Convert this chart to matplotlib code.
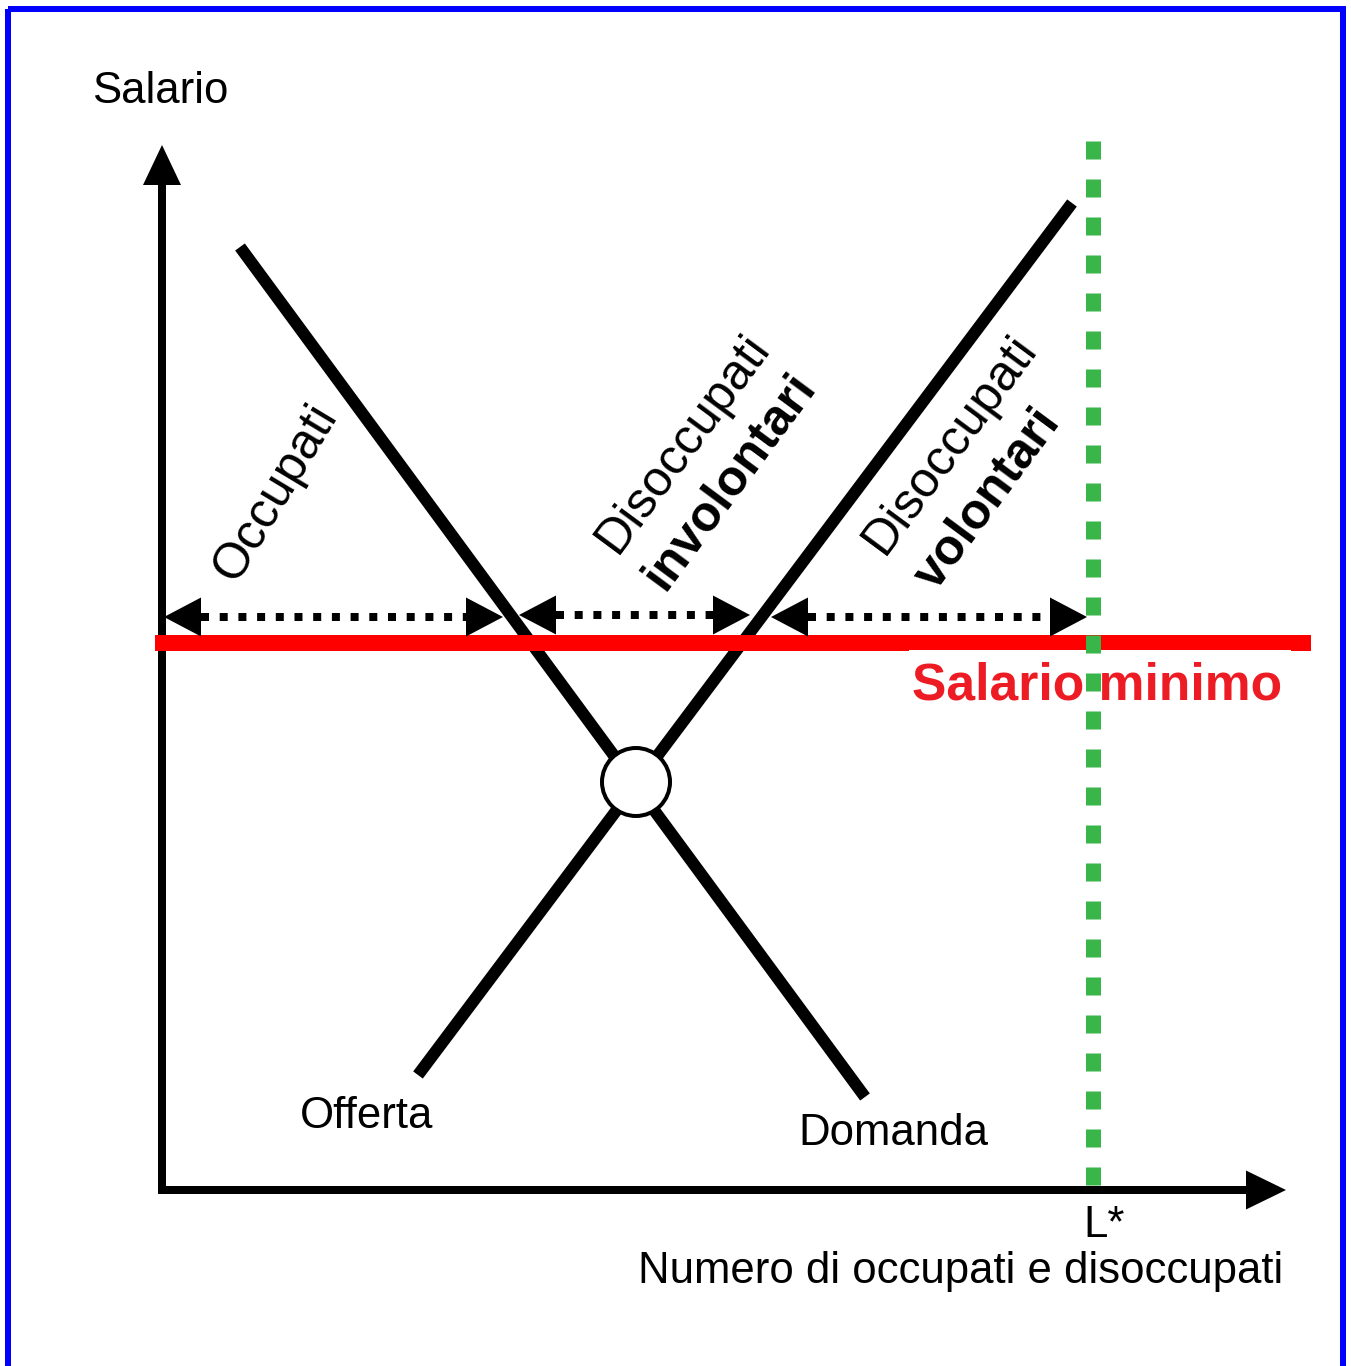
"""Minimum wage diagram: labour supply and demand with a wage floor."""

import matplotlib
matplotlib.use("Agg")
import matplotlib.pyplot as plt
from matplotlib.patches import Circle, Rectangle, Polygon

plt.rcParams['font.family'] = ['Liberation Sans', 'DejaVu Sans']
plt.rcParams['lines.scale_dashes'] = False

W, H = 1351, 1366
PX = 72 / 100  # points per pixel at dpi 100

# diagram geometry, canvas units (y grows downward)
origin = (162, 1190)
y_axis_top = 145
x_axis_right = 1286
demand_x = [240, 865]
demand_y = [247, 1097]
supply_x = [418, 1072]
supply_y = [1075, 203]
equilibrium = (636, 782)
min_wage_y = 643
min_wage_x = [155, 1311]
l_star_x = 1093
l_star_y = [141, 1186]

# horizontal gaps: occupati, disoccupati involontari, disoccupati volontari
gap_y = [617, 615, 617]
gap_left = [164, 519, 771]
gap_right = [503, 750, 1087]


def arrow_head(ax, tip, direction, length, half, zorder=5):
    """Filled triangular head; direction is a unit vector (dx, dy)."""
    tx, ty = tip
    dx, dy = direction
    bx, by = tx - dx * length, ty - dy * length
    px, py = -dy * half, dx * half
    ax.add_patch(Polygon([(tx, ty), (bx + px, by + py), (bx - px, by - py)],
                         closed=True, facecolor="black", edgecolor="none",
                         zorder=zorder))


fig = plt.figure(figsize=(W / 100, H / 100), dpi=100)
ax = fig.add_axes([0, 0, 1, 1])
ax.set_xlim(0, W)
ax.set_ylim(H, 0)
ax.axis("off")

# blue frame
ax.add_patch(Rectangle((8, 9), 1335, 1400, fill=False, edgecolor="#0000FF",
                       linewidth=6 * PX, zorder=10))

# axes with arrows
ox, oy = origin
ax.plot([ox, ox], [oy + 4, y_axis_top + 30], color="black",
        linewidth=8 * PX, solid_capstyle="butt", zorder=3)
arrow_head(ax, (ox, y_axis_top), (0, -1), 40, 19)
ax.plot([ox - 4, x_axis_right - 30], [oy, oy], color="black",
        linewidth=8 * PX, solid_capstyle="butt", zorder=3)
arrow_head(ax, (x_axis_right, oy), (1, 0), 40, 19.5)

# demand and supply
ax.plot(demand_x, demand_y, color="black", linewidth=12 * PX,
        solid_capstyle="butt", zorder=3)
ax.plot(supply_x, supply_y, color="black", linewidth=12 * PX,
        solid_capstyle="butt", zorder=3)
ax.add_patch(Circle(equilibrium, 34, facecolor="white", edgecolor="black",
                    linewidth=4 * PX, zorder=6))

# minimum wage
ax.plot(min_wage_x, [min_wage_y, min_wage_y], color="#FF0000",
        linewidth=16 * PX, solid_capstyle="butt", zorder=4)
ax.add_patch(Rectangle((909, 650), 382, 60, facecolor="white",
                       edgecolor="none", zorder=4.5))
ax.text(912, 700, "Salario minimo", color="#ED1C24", fontsize=37.2,
        fontweight="bold", ha="left", va="baseline", zorder=7)

# L* vertical
ax.plot([l_star_x, l_star_x], l_star_y, color="#39B54A",
        linewidth=15 * PX, linestyle=(0, (18 * PX, 20 * PX)),
        dash_capstyle="butt", zorder=5)

# dotted double arrows
for y, x0, x1 in zip(gap_y, gap_left, gap_right):
    ax.plot([x0 + 37, x1 - 37], [y, y], color="black", linewidth=8 * PX,
            linestyle=(0, (8 * PX, 10.7 * PX)), dash_capstyle="butt",
            zorder=5)
    arrow_head(ax, (x0, y), (-1, 0), 37, 19.5)
    arrow_head(ax, (x1, y), (1, 0), 37, 19.5)

# rotated labels
rot = dict(rotation_mode="anchor", ha="left", va="baseline",
           fontsize=36, zorder=7)
ax.text(236, 584, "Occupati", rotation=59, **rot)
ax.text(617, 555, "Disoccupati", rotation=53.5, **rot)
ax.text(665, 592, "involontari", rotation=53.5, fontweight="bold", **rot)
ax.text(884, 556, "Disoccupati", rotation=53.5, **rot)
ax.text(936, 592, "volontari", rotation=53.5, fontweight="bold", **rot)

# axis labels
lab = dict(fontsize=31.5, va="baseline")
ax.text(92, 103, "Salario", ha="left", **lab)
ax.text(300, 1128, "Offerta", ha="left", **lab)
ax.text(798, 1145, "Domanda", ha="left", **lab)
ax.text(1083, 1237, "L*", ha="left", **lab)
ax.text(1283, 1283, "Numero di occupati e disoccupati", ha="right", **lab)

fig.savefig("out.png", dpi=100)
plt.close(fig)
